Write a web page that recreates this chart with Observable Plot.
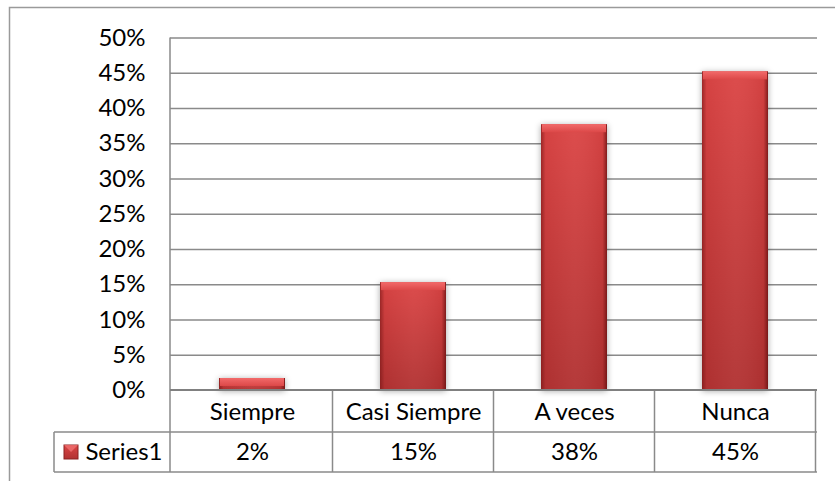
<!DOCTYPE html>
<html><head><meta charset="utf-8">
<script src="https://cdn.jsdelivr.net/npm/d3@7"></script>
<script src="https://cdn.jsdelivr.net/npm/@observablehq/plot@0.6"></script>
<style>
body{margin:0;background:#fff}
svg{font-family:Lato,"Open Sans",sans-serif;background:#fff}
</style>
</head><body><div id="chart"></div>
<script>
const categories = ["Siempre", "Casi Siempre", "A veces", "Nunca"];
const values = [0.017, 0.153, 0.377, 0.452];
const tableLabels = ["2%", "15%", "38%", "45%"];
const yTicks = [0, 0.05, 0.10, 0.15, 0.20, 0.25, 0.30, 0.35, 0.40, 0.45, 0.50];
const seriesName = "Series1";

const data = categories.map((c, i) => ({cat: c, value: values[i], label: tableLabels[i]}));

function defsMark() {
  const g = d3.create("svg:g");
  const defs = g.append("defs");
  const v = defs.append("linearGradient").attr("id", "barV").attr("x1", 0).attr("y1", 0).attr("x2", 0).attr("y2", 1);
  v.append("stop").attr("offset", "0%").attr("stop-color", "#db4545");
  v.append("stop").attr("offset", "100%").attr("stop-color", "#b13232");
  const h = defs.append("linearGradient").attr("id", "barH").attr("x1", 0).attr("y1", 0).attr("x2", 1).attr("y2", 0);
  h.append("stop").attr("offset", "0%").attr("stop-color", "#6a1010").attr("stop-opacity", 0.55);
  h.append("stop").attr("offset", "7%").attr("stop-color", "#6a1010").attr("stop-opacity", 0.05);
  h.append("stop").attr("offset", "50%").attr("stop-color", "#ffffff").attr("stop-opacity", 0.04);
  h.append("stop").attr("offset", "93%").attr("stop-color", "#6a1010").attr("stop-opacity", 0.08);
  h.append("stop").attr("offset", "100%").attr("stop-color", "#5a0a0a").attr("stop-opacity", 0.7);
  const b = defs.append("linearGradient").attr("id", "bevel").attr("x1", 0).attr("y1", 0).attr("x2", 0).attr("y2", 1);
  b.append("stop").attr("offset", "0%").attr("stop-color", "#f26a6a");
  b.append("stop").attr("offset", "100%").attr("stop-color", "#dc4848");
  return g.node();
}

function tableMark(index, scales, vals, dim) {
  const x = scales.x, y = scales.y;
  const step = x.step(), bw = x.bandwidth();
  const half = (step - bw) / 2;
  const y0 = y(0);
  const left = dim.marginLeft, right = dim.width - dim.marginRight;
  const row1 = y0 + 42, row2 = y0 + 82;
  const legendLeft = left - 116;
  const g = d3.create("svg:g").attr("fill", "none").attr("stroke", "#8a8a8a").attr("stroke-width", 1.5);
  g.append("path").attr("d", `M9.5,${dim.height}V7.5H${dim.width}`).attr("stroke", "#9a9a9a");
  g.append("line").attr("x1", left).attr("x2", left).attr("y1", y(0.5)).attr("y2", row2);
  categories.forEach(c => {
    const xr = x(c) + bw + half;
    g.append("line").attr("x1", xr).attr("x2", xr).attr("y1", y0).attr("y2", row2);
  });
  g.append("line").attr("x1", left).attr("x2", right).attr("y1", y0).attr("y2", y0).attr("stroke", "#808080").attr("stroke-width", 2);
  g.append("line").attr("x1", legendLeft).attr("x2", right).attr("y1", row1).attr("y2", row1);
  g.append("line").attr("x1", legendLeft).attr("x2", right).attr("y1", row2).attr("y2", row2);
  g.append("line").attr("x1", legendLeft).attr("x2", legendLeft).attr("y1", row1).attr("y2", row2);
  const cy = (row1 + row2) / 2;
  g.append("rect").attr("x", legendLeft + 10).attr("y", cy - 7).attr("width", 14).attr("height", 14)
    .attr("fill", "url(#barV)").attr("stroke", "#8b2222").attr("stroke-width", 1);
  g.append("path").attr("d", `M${legendLeft + 10},${cy - 7}h14l-7,7z`).attr("fill", "#f07070").attr("stroke", "none").attr("opacity", 0.8);
  return g.node();
}

const FS = 24;
const chart = Plot.plot({
  width: 835,
  height: 481,
  marginLeft: 170,
  marginRight: 18,
  marginTop: 37.5,
  marginBottom: 91,
  style: {fontSize: FS + "px", fontFamily: "Lato, 'Open Sans', sans-serif", color: "#000"},
  x: {domain: categories, paddingInner: 0.59, paddingOuter: 0.295, axis: null},
  y: {domain: [0, 0.5], axis: null},
  marks: [
    defsMark,
    Plot.ruleY(yTicks.slice(1), {stroke: "#8a8a8a", strokeWidth: 1.5, strokeOpacity: 1}),
    Plot.axisY(yTicks, {tickFormat: d3.format(".0%"), tickSize: 0, tickPadding: 25, label: null, fontSize: FS, fill: "#000"}),
    Plot.barY(data, {x: "cat", y: "value", fill: "url(#barV)"}),
    Plot.barY(data, {x: "cat", y: "value", fill: "url(#barH)"}),
    Plot.barY(data, {x: "cat", y1: "value", y2: "value", insetBottom: -8, insetLeft: 1, insetRight: 1, fill: "url(#bevel)"}),
    tableMark,
    Plot.text(data, {x: "cat", y: 0, text: "cat", dy: 22, fontSize: FS, fill: "#000"}),
    Plot.text(data, {x: "cat", y: 0, text: "label", dy: 62, fontSize: FS, fill: "#000"}),
    Plot.text([seriesName], {frameAnchor: "left", y: 0, text: d => d, textAnchor: "end", dx: -8, dy: 62, fontSize: FS, fill: "#000"})
  ]
});
document.getElementById("chart").appendChild(chart);
const barGroups = chart.querySelectorAll('g[aria-label="bar"]');
if (barGroups.length) barGroups[0].style.filter = "drop-shadow(0px 1px 3px rgba(0,0,0,0.35))";
</script>
</body></html>
